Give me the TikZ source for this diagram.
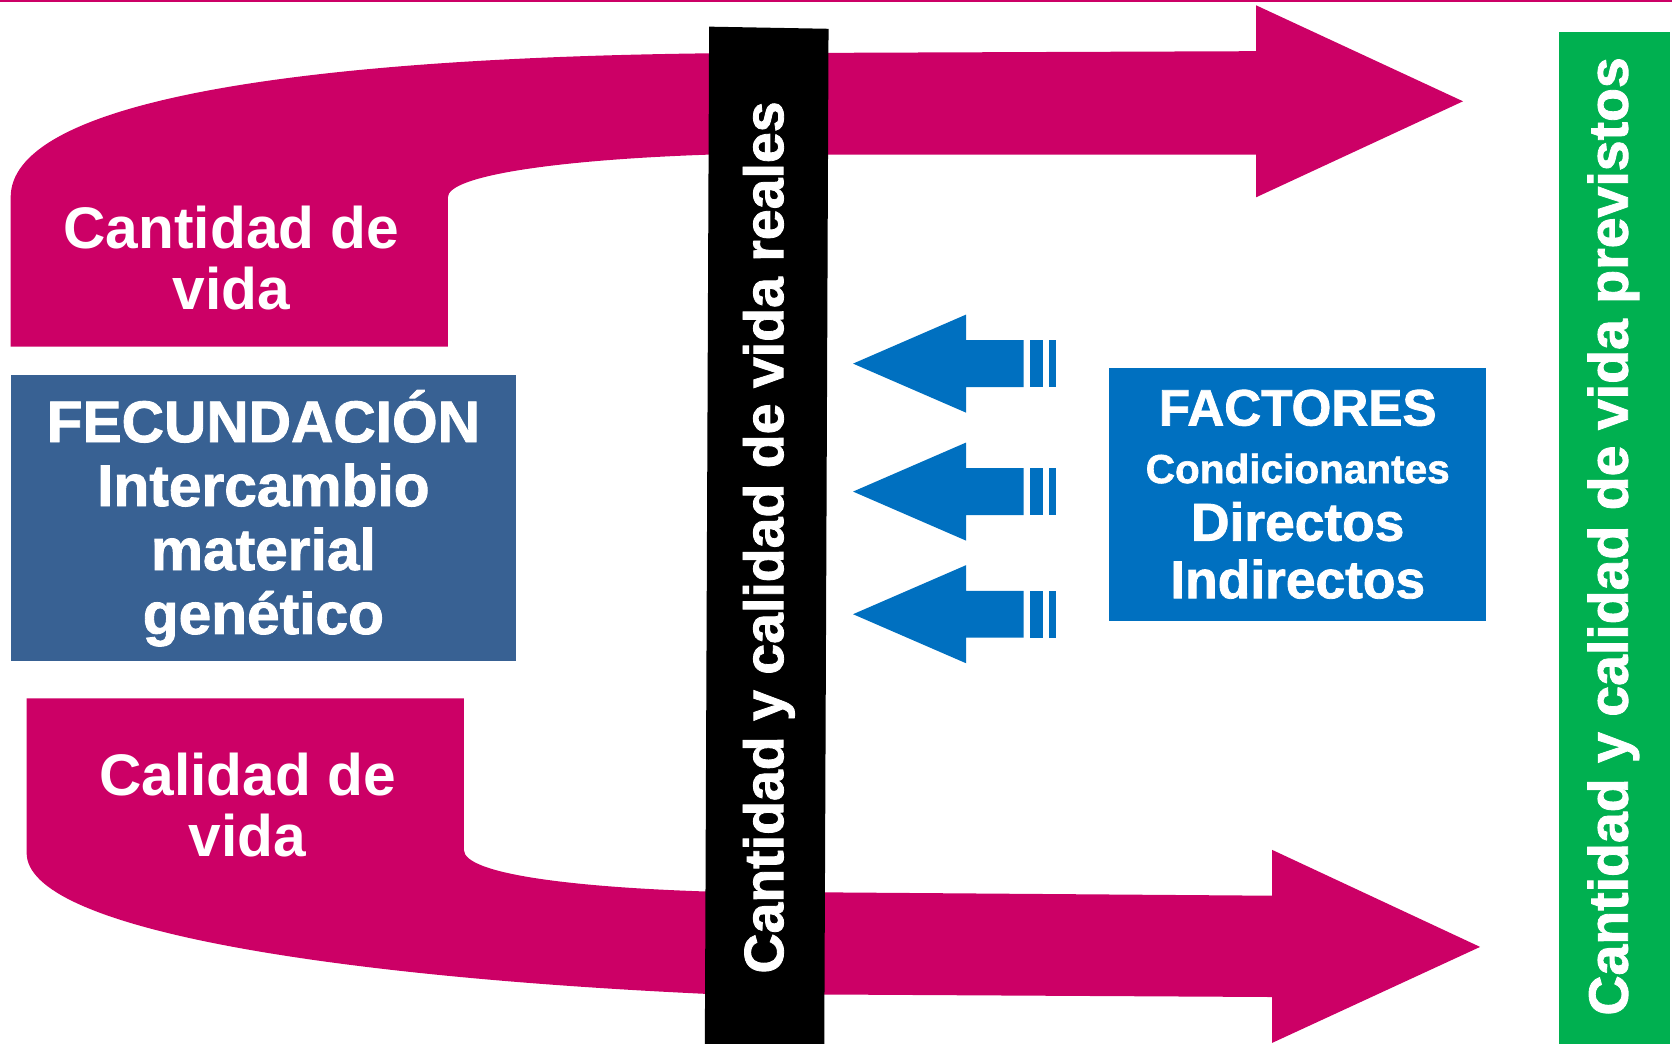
\documentclass[tikz,border=0pt]{standalone}
\usepackage{fontspec}
\setmainfont{Liberation Sans}
\newfontfamily\negra[BoldFeatures={FakeBold=1.5}]{Liberation Sans}
\usepackage{tikz}
\definecolor{rosa}{RGB}{204,0,102}
\definecolor{azulgris}{RGB}{56,97,147}
\definecolor{azul}{RGB}{0,112,192}
\definecolor{verde}{RGB}{0,176,80}

\begin{document}
\begin{tikzpicture}[x=0.5pt,y=-0.5pt,
    texto/.style={text=white,font=\bfseries,align=center,inner sep=0pt},
    barra/.style={texto,rotate=90,font=\negra\bfseries\fontsize{26}{28}\selectfont}]
    \useasboundingbox (0,0) rectangle (1568,979);
    \fill[rosa] (0,0) rectangle (1568,2);
    \fill[rosa] (10,325) -- (10,185) .. controls (10,100) and (250,55) .. (665,50) -- (1178,48) -- (1178,5) -- (1372,95) -- (1178,185) -- (1178,145) -- (665,145) .. controls (520,150) and (420,165) .. (420,185) -- (420,325) -- cycle;
    \fill[rosa] (25,655) -- (435,655) -- (435,797) .. controls (435,820) and (540,832) .. (661,836) -- (1193,840) -- (1193,797) -- (1388,888) -- (1193,978) -- (1193,935) -- (661,932) .. controls (300,915) and (25,870) .. (25,800) -- cycle;
    \fill[black] (665,25) -- (777,27) -- (773,979) -- (661,979) -- cycle;
    \fill[verde] (1462,30) rectangle (1566,979);
    \foreach \y in {341,461,576}
        {
          \fill[azul] (800,\y) -- (906,\y-46) -- (906,\y-22) -- (960,\y-22) -- (960,\y+22) -- (906,\y+22) -- (906,\y+46) -- cycle;
          \fill[azul] (966,\y-22) rectangle (978,\y+22);
          \fill[azul] (984,\y-22) rectangle (990,\y+22);
        };
    \node[texto,font=\bfseries\fontsize{27.5}{28.5}\selectfont] (cantidad) at (217,242) {Cantidad de\\vida};
    \node[texto,font=\bfseries\fontsize{27.5}{28.5}\selectfont] (calidad) at (232,755) {Calidad de\\vida};
    \node[texto,fill=azulgris,minimum width=237pt,minimum height=134pt,font=\negra\bfseries\fontsize{27.5}{30}\selectfont] (fecundacion) at (247,486) {FECUNDACIÓN\\Intercambio\\material\\genético};
    \node[texto,fill=azul,minimum width=177pt,minimum height=118.5pt,font=\negra\bfseries\fontsize{24}{27}\selectfont] (factores) at (1217,463.5) {FACTORES\\{\fontsize{19}{27}\selectfont Condicionantes}\\{\fontsize{25}{27}\selectfont Directos}\\{\fontsize{25}{27}\selectfont Indirectos}};
    \node[barra] (reales) at (721,504) {Cantidad y calidad de vida reales};
    \node[barra] (previstos) at (1513,503) {Cantidad y calidad de vida previstos};
\end{tikzpicture}
\end{document}
